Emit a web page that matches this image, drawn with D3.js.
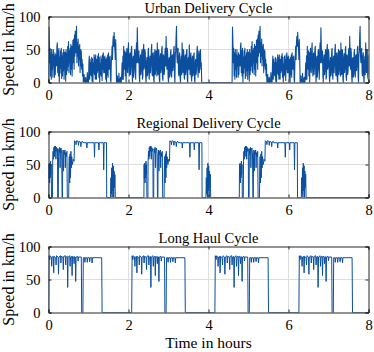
<!DOCTYPE html>
<html>
<head>
<meta charset="utf-8">
<script src="https://cdn.jsdelivr.net/npm/d3@7"></script>
<style>
  body { margin: 0; background: #fff; }
  svg { display: block; }
  text { font-family: "Liberation Serif", "Times New Roman", serif; fill: #000; }
</style>
</head>
<body>
<svg id="chart" width="374" height="352"></svg>
<script>
// speed samples of one urban cycle, one sample every 0.01 h
const urbanStep = 0.01;
const urbanSpeed = [
  0, 84, 62, 30, 52, 10, 45, 5, 50, 20, 42, 8, 50, 25, 40, 8, 45, 12, 42, 30,
  25, 55, 60, 15, 48, 10, 52, 0, 38, 14, 48, 22, 52, 6, 40, 10, 45, 18, 50, 5,
  28, 46, 40, 2, 50, 12, 44, 18, 55, 25, 62, 15, 48, 30, 52, 12, 58, 20, 55, 10,
  35, 64, 30, 66, 20, 72, 40, 78, 45, 62, 85, 30, 60, 40, 66, 25, 55, 35, 58, 15,
  50, 25, 48, 20, 35, 10, 28, 0, 0, 12, 5, 0, 0, 8, 0, 2, 0, 15, 6, 0,
  0, 30, 40, 5, 35, 12, 30, 10, 38, 2, 36, 0, 30, 15, 42, 12, 38, 5, 42, 10,
  5, 35, 15, 40, 18, 44, 8, 38, 0, 28, 12, 40, 10, 35, 3, 42, 20, 45, 15, 38,
  15, 40, 32, 5, 35, 0, 38, 12, 42, 8, 45, 20, 38, 20, 40, 5, 0, 30, 40, 55,
  35, 62, 70, 55, 76, 60, 50, 35, 65, 40, 0, 0, 10, 0, 0, 0, 14, 3, 0, 0,
  8, 0, 0, 12, 30, 5, 40, 5, 55, 20, 30, 48, 10, 45, 0, 40, 52, 20, 15, 48,
  60, 25, 10, 42, 45, 12, 25, 50, 55, 15, 0, 35, 40, 8, 20, 48, 50, 18, 5, 45,
  60, 30, 83, 55, 30, 44, 48, 10, 0, 35, 42, 12, 18, 46, 50, 5, 10, 50, 58, 20,
  25, 50, 45, 8, 0, 30, 38, 10, 15, 48, 52, 12, 5, 35, 40, 15, 28, 50, 58, 12,
  10, 44, 45, 5, 0, 40, 50, 12, 20, 48, 42, 10, 60, 22, 12, 50, 48, 5, 0, 38,
  44, 15, 22, 50, 55, 8, 3, 42, 40, 12, 18, 46, 52, 25, 70, 40, 20, 52, 45, 8,
  0, 35, 38, 8, 15, 45, 50, 12, 8, 40, 42, 18, 25, 50, 55, 10, 0, 42, 48, 70,
  85, 40, 30, 48, 52, 15, 10, 40, 45, 8, 0, 32, 40, 12, 60, 35, 15, 50, 48, 10,
  5, 38, 42, 12, 20, 48, 50, 5, 0, 35, 38, 20, 57, 30, 12, 40, 45, 8, 2, 35,
  40, 10, 15, 42, 45, 5, 0, 30, 35, 12, 20, 48, 55, 25, 8, 40, 48, 15, 25, 44,
  50, 20, 30, 0
];
const urbanStarts = [0, 4.59];

// regional cycle: [hours from cycle start, km/h]
const regionalCycle = [
  [0, 0], [0.005, 50], [0.012, 28], [0.02, 52], [0.028, 22], [0.036, 48], [0.044, 30],
  [0.052, 55], [0.06, 35], [0.068, 50], [0.075, 0], [0.1, 0], [0.105, 55], [0.115, 70],
  [0.125, 58], [0.135, 76], [0.145, 62], [0.155, 78], [0.165, 70], [0.175, 78], [0.185, 58],
  [0.195, 76], [0.21, 70], [0.225, 74], [0.23, 0], [0.245, 0], [0.25, 62], [0.26, 74],
  [0.27, 68], [0.28, 76], [0.29, 45], [0.3, 72], [0.315, 75], [0.33, 66], [0.34, 0],
  [0.35, 0], [0.355, 60], [0.365, 72], [0.375, 40], [0.385, 70], [0.395, 65], [0.41, 72],
  [0.42, 45], [0.43, 68], [0.445, 62], [0.46, 70], [0.47, 0], [0.505, 0], [0.51, 40],
  [0.52, 62], [0.53, 22], [0.54, 66], [0.55, 30], [0.56, 70], [0.57, 45], [0.58, 62],
  [0.6, 50], [0.62, 58], [0.64, 55], [0.65, 86], [0.68, 84], [0.69, 80], [0.7, 86],
  [0.74, 85], [0.75, 79], [0.76, 85], [0.8, 84], [0.81, 77], [0.82, 84], [0.85, 85],
  [0.86, 83], [0.95, 83], [0.96, 75], [0.97, 83], [1.14, 83], [1.15, 61], [1.16, 83],
  [1.25, 83], [1.26, 72], [1.27, 83], [1.37, 83], [1.38, 42], [1.39, 83], [1.45, 83],
  [1.455, 0], [1.55, 0], [1.56, 30], [1.57, 5], [1.58, 45], [1.59, 0], [1.6, 52],
  [1.61, 10], [1.62, 48], [1.63, 0], [1.64, 40], [1.65, 15], [1.66, 35], [1.67, 0]
];
const regionalStarts = [0, 2.385, 4.77];

// long haul cycle: [hours from cycle start, km/h]
const longHaulCycle = [
  [0, 0], [0.01, 86], [0.03, 80], [0.04, 86], [0.07, 84], [0.08, 70], [0.09, 84],
  [0.12, 85], [0.13, 60], [0.14, 85], [0.18, 83], [0.19, 72], [0.2, 86], [0.24, 84],
  [0.25, 58], [0.26, 84], [0.3, 86], [0.31, 75], [0.32, 85], [0.36, 84], [0.37, 65],
  [0.38, 85], [0.42, 86], [0.43, 72], [0.44, 84], [0.47, 85], [0.48, 38], [0.49, 84],
  [0.53, 86], [0.54, 70], [0.55, 84], [0.58, 85], [0.59, 56], [0.6, 85], [0.63, 84],
  [0.64, 74], [0.65, 85], [0.67, 84], [0.68, 47], [0.69, 84], [0.73, 85], [0.74, 78],
  [0.75, 84], [0.82, 84], [0.83, 0], [0.86, 0], [0.87, 83], [0.9, 83], [0.91, 76],
  [0.92, 83], [0.96, 83], [0.97, 76], [0.98, 83], [1.02, 83], [1.03, 77], [1.04, 83],
  [1.08, 83], [1.09, 75], [1.1, 83], [1.33, 83], [1.34, 0]
];
const longHaulStarts = [0, 2.08, 4.16, 6.26];

const titles = ["Urban Delivery Cycle", "Regional Delivery Cycle", "Long Haul Cycle"];
const xTicks = [0, 2, 4, 6, 8];
const yTicks = [0, 50, 100];

function repeatCycle(cycle, starts){
  const pts = [];
  starts.forEach(s => cycle.forEach(([t, v]) => pts.push([s + t, v])));
  if (pts[pts.length - 1][0] < 8) pts.push([8, 0]);
  return pts;
}

const urbanCycle = urbanSpeed.map((v, i) => [i * urbanStep, v]);
const series = [
  repeatCycle(urbanCycle, urbanStarts),
  repeatCycle(regionalCycle, regionalStarts),
  repeatCycle(longHaulCycle, longHaulStarts)
];
const widths = [1.1, 1, 1];

const svg = d3.select("#chart");
const left = 48.5, right = 368.5;
const tops = [16.5, 131.5, 246.5];
const h = 66;
const x = d3.scaleLinear().domain([0, 8]).range([left, right]);
const lineColor = "#0b4f9e";

tops.forEach((top, k) => {
  const y = d3.scaleLinear().domain([0, 100]).range([top + h, top]);
  const g = svg.append("g");

  // grid
  g.selectAll(".gx").data(xTicks.slice(1, -1)).enter().append("line")
    .attr("x1", d => x(d)).attr("x2", d => x(d))
    .attr("y1", top).attr("y2", top + h)
    .attr("stroke", "#dedede").attr("stroke-width", 1);
  g.selectAll(".gy").data(yTicks.slice(1, -1)).enter().append("line")
    .attr("x1", left).attr("x2", right)
    .attr("y1", d => y(d)).attr("y2", d => y(d))
    .attr("stroke", "#dedede").attr("stroke-width", 1);

  // data
  g.append("clipPath").attr("id", "clip" + k)
    .append("rect").attr("x", left).attr("y", top - 1).attr("width", right - left).attr("height", h + 1);
  const line = d3.line().x(d => x(d[0])).y(d => y(d[1]));
  g.append("path")
    .datum(series[k])
    .attr("clip-path", "url(#clip" + k + ")")
    .attr("fill", "none")
    .attr("stroke", lineColor)
    .attr("stroke-width", widths[k])
    .attr("stroke-linejoin", "round")
    .attr("d", line);

  // axes: bottom/left with labels, top/right ticks only
  const tl = 3;
  const ax = g.append("g").attr("transform", `translate(0,${top + h})`)
    .call(d3.axisBottom(x).tickValues(xTicks).tickSize(-tl).tickPadding(7).tickFormat(d3.format("d")));
  const axT = g.append("g").attr("transform", `translate(0,${top})`)
    .call(d3.axisTop(x).tickValues(xTicks).tickSize(-tl).tickFormat(""));
  const ay = g.append("g").attr("transform", `translate(${left},0)`)
    .call(d3.axisLeft(y).tickValues(yTicks).tickSize(-tl).tickPadding(8));
  const ayR = g.append("g").attr("transform", `translate(${right},0)`)
    .call(d3.axisRight(y).tickValues(yTicks).tickSize(-tl).tickFormat(""));
  [ax, axT, ay, ayR].forEach(a => {
    a.select(".domain").attr("stroke", "#262626").attr("stroke-width", 1);
    a.selectAll(".tick line").attr("stroke", "#262626");
    a.selectAll("text").attr("font-family", "Liberation Serif").attr("font-size", 14.5).attr("fill", "#000");
  });

  g.append("text")
    .attr("x", (left + right) / 2).attr("y", top - 3.5)
    .attr("text-anchor", "middle").attr("font-size", 14.5)
    .text(titles[k]);

  g.append("text")
    .attr("transform", `translate(14,${top + h / 2}) rotate(-90)`)
    .attr("text-anchor", "middle").attr("font-size", 16)
    .text("Speed in km/h");
});

svg.append("text")
  .attr("x", (left + right) / 2).attr("y", 348)
  .attr("text-anchor", "middle").attr("font-size", 15.5)
  .text("Time in hours");
</script>
</body>
</html>
